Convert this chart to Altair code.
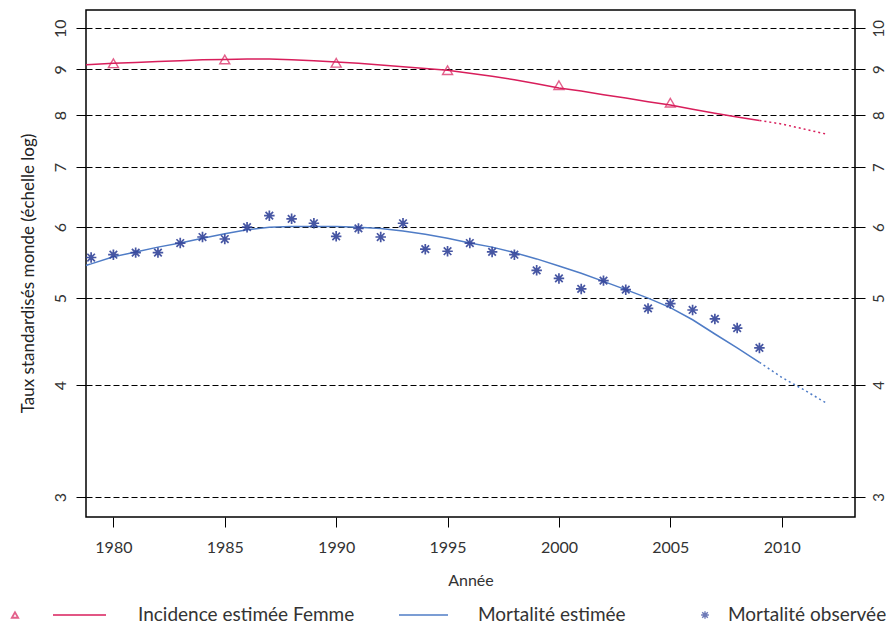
import altair as alt
import pandas as pd

# ---------------- data ----------------
curve_years = list(range(1978, 2013))
incidence_est = [9.09, 9.11, 9.14, 9.16, 9.18, 9.20, 9.22, 9.23, 9.24, 9.24,
                 9.22, 9.20, 9.17, 9.14, 9.10, 9.06, 9.02, 8.98, 8.91, 8.84,
                 8.76, 8.67, 8.58, 8.51, 8.43, 8.36, 8.28, 8.21, 8.12, 8.04,
                 7.96, 7.89, 7.82, 7.72, 7.62]
mortality_est = [5.37, 5.46, 5.56, 5.63, 5.70, 5.76, 5.83, 5.90, 5.96, 6.00,
                 6.01, 6.01, 6.01, 6.00, 5.98, 5.94, 5.89, 5.83, 5.76, 5.70,
                 5.62, 5.53, 5.43, 5.33, 5.22, 5.11, 5.00, 4.88, 4.73, 4.56,
                 4.40, 4.24, 4.08, 3.95, 3.82]
projection_start = 2009

obs_inc_years = [1980, 1985, 1990, 1995, 2000, 2005]
obs_inc = [9.14, 9.23, 9.15, 8.98, 8.64, 8.26]

obs_mort_years = list(range(1979, 2010))
obs_mort = [5.55, 5.59, 5.62, 5.62, 5.76, 5.85, 5.82, 6.00, 6.18, 6.13,
            6.06, 5.86, 5.98, 5.85, 6.06, 5.67, 5.64, 5.76, 5.63, 5.59,
            5.37, 5.26, 5.12, 5.23, 5.11, 4.87, 4.93, 4.85, 4.74, 4.63,
            4.40]

x_ticks = [1980, 1985, 1990, 1995, 2000, 2005, 2010]
y_ticks = [3, 4, 5, 6, 7, 8, 9, 10]
legend_labels = ["Incidence estimée Femme", "Mortalité estimée", "Mortalité observée"]
x_title = "Année"
y_title = "Taux standardisés monde (échelle log)"

# ---------------- tables ----------------
curves = pd.DataFrame({"year": curve_years, "inc": incidence_est, "mort": mortality_est})
solid = curves[curves.year <= projection_start]
dotted = curves[curves.year >= projection_start]
obs_i = pd.DataFrame({"year": obs_inc_years, "v": obs_inc})
obs_m = pd.DataFrame({"year": obs_mort_years, "v": obs_mort})

RED = "#d81e5b"
BLUE = "#4f7cc6"
STAR = "#33449a"
FONT = "Lato"
ASTERISK = "M-1,0L1,0M0,-1L0,1M-0.72,-0.72L0.72,0.72M-0.72,0.72L0.72,-0.72"

W, H = 769, 507
x_scale = alt.Scale(domain=[1978.77, 2013.29], nice=False, zero=False)
y_scale = alt.Scale(type="log", domain=[2.85, 10.48], nice=False)

x_enc = alt.X("year:Q", scale=x_scale, title=x_title,
              axis=alt.Axis(values=x_ticks, format="d", grid=False, domain=False,
                            tickSize=10, tickColor="black", tickWidth=1,
                            labelFont=FONT, labelFontSize=16, labelColor="#333333",
                            labelPadding=12, titleFont=FONT, titleFontSize=16,
                            titleFontWeight="normal", titleColor="#333333",
                            titleBaseline="middle", titleY=63, titleX=W / 2))

left_axis = alt.Axis(orient="left", values=y_ticks, grid=True, gridColor="black",
                     gridDash=[6, 3], gridWidth=1.1, gridOpacity=1, domain=False,
                     tickSize=10, tickColor="black", tickWidth=1,
                     labelAngle=270, labelAlign="center", labelBaseline="bottom",
                     labelPadding=8, labelFont=FONT, labelFontSize=16,
                     labelColor="#333333", title=y_title, titleFont=FONT,
                     titleFontSize=17, titleFontWeight="normal", titleColor="#222222",
                     titleAngle=270, titleBaseline="middle", titleAlign="center",
                     titleX=-58, titleY=263)
right_axis = alt.Axis(orient="right", values=y_ticks, grid=False, domain=False,
                      tickSize=10, tickColor="black", tickWidth=1,
                      labelAngle=270, labelAlign="center", labelBaseline="top",
                      labelPadding=6, labelFont=FONT, labelFontSize=15,
                      labelColor="#333333", title=None)

def yq(field, axis=None):
    if axis is None:
        return alt.Y(f"{field}:Q", scale=y_scale, axis=None)
    return alt.Y(f"{field}:Q", scale=y_scale, axis=axis)

inc_solid = alt.Chart(solid).mark_line(color=RED, strokeWidth=1.5, clip=True).encode(
    x=x_enc, y=yq("inc", left_axis))
inc_dot = alt.Chart(dotted).mark_line(color=RED, strokeWidth=1.5, strokeDash=[2, 3], clip=True).encode(
    x=x_enc, y=yq("inc", right_axis))
mort_solid = alt.Chart(solid).mark_line(color=BLUE, strokeWidth=1.5, clip=True).encode(
    x=x_enc, y=yq("mort"))
mort_dot = alt.Chart(dotted).mark_line(color=BLUE, strokeWidth=1.5, strokeDash=[2, 3], clip=True).encode(
    x=x_enc, y=yq("mort"))
tri = alt.Chart(obs_i).mark_point(shape="triangle-up", filled=False, color=RED,
                                  size=100, strokeWidth=1.4).encode(x=x_enc, y=yq("v"))
stars = alt.Chart(obs_m).mark_point(shape=ASTERISK, filled=False, color=STAR,
                                    size=110, strokeWidth=1.7, opacity=0.9).encode(x=x_enc, y=yq("v"))

# ---------------- legend (below plot) ----------------
LY = 605
leg = [
    alt.Chart().mark_point(shape="triangle-up", filled=False, color=RED, size=40, strokeWidth=1.8)
        .encode(x=alt.value(-71), y=alt.value(LY)),
    alt.Chart().mark_rule(color=RED, strokeWidth=1.6)
        .encode(x=alt.value(-33), x2=alt.value(20), y=alt.value(LY)),
    alt.Chart().mark_text(align="left", baseline="middle", font=FONT, fontSize=19, color="#333333")
        .encode(x=alt.value(52), y=alt.value(LY), text=alt.value(legend_labels[0])),
    alt.Chart().mark_rule(color=BLUE, strokeWidth=1.6)
        .encode(x=alt.value(313), x2=alt.value(362), y=alt.value(LY)),
    alt.Chart().mark_text(align="left", baseline="middle", font=FONT, fontSize=19, color="#333333")
        .encode(x=alt.value(392), y=alt.value(LY), text=alt.value(legend_labels[1])),
    alt.Chart().mark_point(shape=ASTERISK, filled=False, color=STAR, size=60, strokeWidth=1.4)
        .encode(x=alt.value(619), y=alt.value(LY)),
    alt.Chart().mark_text(align="left", baseline="middle", font=FONT, fontSize=19, color="#333333")
        .encode(x=alt.value(642), y=alt.value(LY), text=alt.value(legend_labels[2])),
]

chart = alt.layer(inc_solid, inc_dot, mort_solid, mort_dot, tri, stars, *leg).resolve_axis(
    y="independent"
).properties(
    width=W, height=H,
    background="white",
    autosize=alt.AutoSizeParams(type="none"),
    padding={"left": 78, "top": 2, "right": 31, "bottom": 110},
).configure_view(stroke="black", strokeWidth=1.5)

chart.save("out.html", embed_options={"renderer": "svg", "actions": False})
